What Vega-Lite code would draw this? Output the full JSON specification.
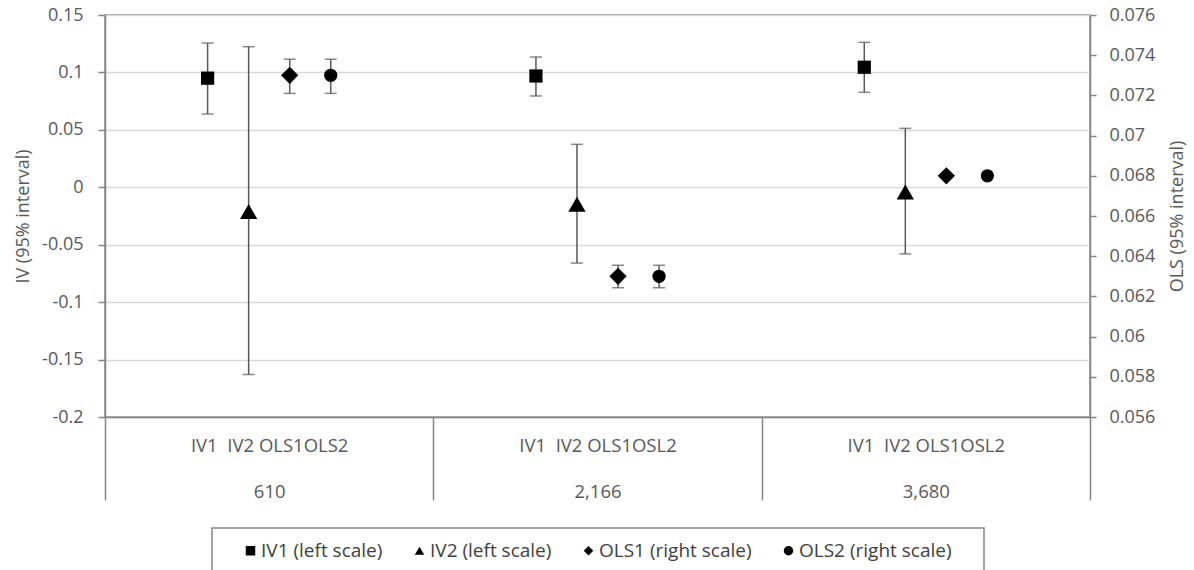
{
  "$schema": "https://vega.github.io/schema/vega-lite/v6.json",
  "width": 985,
  "height": 402,
  "autosize": "none",
  "padding": {"left": 105, "top": 15, "right": 104, "bottom": 153},
  "background": "white",
  "config": {
    "view": {"stroke": "#868686", "strokeWidth": 1.5},
    "font": "Open Sans",
    "axis": {
      "labelFont": "Open Sans", "titleFont": "Open Sans",
      "labelColor": "#595959", "titleColor": "#595959",
      "labelFontSize": 18, "titleFontSize": 18, "titleFontWeight": "normal",
      "domainColor": "#868686", "tickColor": "#868686", "domainWidth": 1.5, "tickWidth": 1.5,
      "gridColor": "#d9d9d9", "gridWidth": 1.5
    },
    "legend": {
      "orient": "none", "legendX": 107, "legendY": 513, "direction": "horizontal",
      "strokeColor": "#868686", "strokeWidth": 1.5, "fillColor": "white", "padding": 13,
      "labelFont": "Open Sans", "labelFontSize": 19, "labelColor": "#404040",
      "symbolSize": 90, "symbolFillColor": "black", "symbolStrokeColor": "black",
      "symbolOffset": 16, "columnPadding": 11, "labelOffset": 1
    }
  },
  "data": {
    "values": [
      {"n": "610", "series": "IV1 (left scale)", "side": "left", "est": 0.095, "lo": 0.0638, "hi": 0.1256},
      {"n": "610", "series": "IV2 (left scale)", "side": "left", "est": -0.021, "lo": -0.163, "hi": 0.1224},
      {"n": "610", "series": "OLS1 (right scale)", "side": "right", "est": 0.073, "lo": 0.0721, "hi": 0.0738},
      {"n": "610", "series": "OLS2 (right scale)", "side": "right", "est": 0.073, "lo": 0.0721, "hi": 0.0738},
      {"n": "2,166", "series": "IV1 (left scale)", "side": "left", "est": 0.0969, "lo": 0.0795, "hi": 0.1134},
      {"n": "2,166", "series": "IV2 (left scale)", "side": "left", "est": -0.0148, "lo": -0.066, "hi": 0.0374},
      {"n": "2,166", "series": "OLS1 (right scale)", "side": "right", "est": 0.063, "lo": 0.06243, "hi": 0.06355},
      {"n": "2,166", "series": "OLS2 (right scale)", "side": "right", "est": 0.063, "lo": 0.06243, "hi": 0.06355},
      {"n": "3,680", "series": "IV1 (left scale)", "side": "left", "est": 0.1045, "lo": 0.0827, "hi": 0.1262},
      {"n": "3,680", "series": "IV2 (left scale)", "side": "left", "est": -0.004, "lo": -0.058, "hi": 0.0513},
      {"n": "3,680", "series": "OLS1 (right scale)", "side": "right", "est": 0.068, "lo": 0.06795, "hi": 0.06805},
      {"n": "3,680", "series": "OLS2 (right scale)", "side": "right", "est": 0.068, "lo": 0.06795, "hi": 0.06805}
    ]
  },
  "encoding": {
    "x": {
      "field": "n", "type": "nominal", "sort": ["610", "2,166", "3,680"],
      "scale": {"paddingInner": 0, "paddingOuter": 0},
      "axis": {
        "title": null, "tickBand": "extent", "tickSize": 83, "labelPadding": -64,
        "labelLineHeight": 46, "labelAngle": 0, "labelBaseline": "top", "labelFontSize": 18.5,
        "labelExpr": "datum.value == '610' ? ['IV1\u00a0\u00a0IV2 OLS1OLS2', '610'] : (datum.value == '2,166' || datum.value == '3,680') ? ['IV1\u00a0\u00a0IV2 OLS1OSL2', datum.value] : ''"
      }
    },
    "xOffset": {
      "field": "series", "type": "nominal",
      "scale": {
        "domain": ["pad_a", "pad_b", "IV1 (left scale)", "IV2 (left scale)", "OLS1 (right scale)", "OLS2 (right scale)", "pad_c", "pad_d"],
        "paddingInner": 0, "paddingOuter": 0
      }
    }
  },
  "layer": [
    {
      "transform": [{"filter": "datum.side == 'left'"}],
      "layer": [
        {
          "mark": {"type": "rule", "color": "#595959", "strokeWidth": 1.5},
          "encoding": {
            "y": {
              "field": "lo", "type": "quantitative",
              "scale": {"domain": [-0.2, 0.15], "nice": false, "zero": false},
              "axis": {
                "title": "IV (95% interval)", "orient": "left", "grid": true,
                "values": [-0.2, -0.15, -0.1, -0.05, 0, 0.05, 0.1, 0.15],
                "labelExpr": "toString(round(datum.value * 100) / 100)",
                "tickSize": 7, "labelPadding": 15, "titlePadding": 9, "domain": true
              }
            },
            "y2": {"field": "hi"}
          }
        },
        {
          "mark": {"type": "tick", "color": "#595959", "size": 12, "thickness": 1.5, "orient": "horizontal"},
          "encoding": {"y": {"field": "lo", "type": "quantitative", "title": "IV (95% interval)"}}
        },
        {
          "mark": {"type": "tick", "color": "#595959", "size": 12, "thickness": 1.5, "orient": "horizontal"},
          "encoding": {"y": {"field": "hi", "type": "quantitative", "title": "IV (95% interval)"}}
        },
        {
          "mark": {"type": "point", "filled": true, "color": "black", "opacity": 1},
          "encoding": {
            "y": {"field": "est", "type": "quantitative", "title": "IV (95% interval)"},
            "shape": {
              "field": "series", "type": "nominal",
              "scale": {
                "domain": ["IV1 (left scale)", "IV2 (left scale)", "OLS1 (right scale)", "OLS2 (right scale)"],
                "range": ["square", "triangle-up", "diamond", "circle"]
              },
              "legend": {"title": "\u00a0", "titleOrient": "right", "titlePadding": 19, "titleFontSize": 10}
            },
            "size": {"condition": {"test": "datum.series == 'IV2 (left scale)'", "value": 300}, "value": 175}
          }
        }
      ]
    },
    {
      "transform": [{"filter": "datum.side == 'right'"}],
      "layer": [
        {
          "mark": {"type": "rule", "color": "#595959", "strokeWidth": 1.5},
          "encoding": {
            "y": {
              "field": "lo", "type": "quantitative",
              "scale": {"domain": [0.056, 0.076], "nice": false, "zero": false},
              "axis": {
                "title": "OLS (95% interval)", "orient": "right", "grid": false,
                "values": [0.056, 0.058, 0.06, 0.062, 0.064, 0.066, 0.068, 0.07, 0.072, 0.074, 0.076],
                "labelExpr": "toString(round(datum.value * 1000) / 1000)",
                "tickSize": 6, "labelPadding": 13, "titlePadding": 32, "titleAngle": 270, "domain": true
              }
            },
            "y2": {"field": "hi"}
          }
        },
        {
          "mark": {"type": "tick", "color": "#595959", "size": 12, "thickness": 1.5, "orient": "horizontal"},
          "encoding": {"y": {"field": "lo", "type": "quantitative", "title": "OLS (95% interval)"}}
        },
        {
          "mark": {"type": "tick", "color": "#595959", "size": 12, "thickness": 1.5, "orient": "horizontal"},
          "encoding": {"y": {"field": "hi", "type": "quantitative", "title": "OLS (95% interval)"}}
        },
        {
          "mark": {"type": "point", "filled": true, "color": "black", "opacity": 1},
          "encoding": {
            "y": {"field": "est", "type": "quantitative", "title": "OLS (95% interval)"},
            "shape": {"field": "series", "type": "nominal", "legend": {"title": "\u00a0", "titleOrient": "right", "titlePadding": 19, "titleFontSize": 10}},
            "size": {"condition": {"test": "datum.series == 'OLS1 (right scale)'", "value": 300}, "value": 175}
          }
        }
      ]
    }
  ],
  "resolve": {"scale": {"y": "independent"}}
}
